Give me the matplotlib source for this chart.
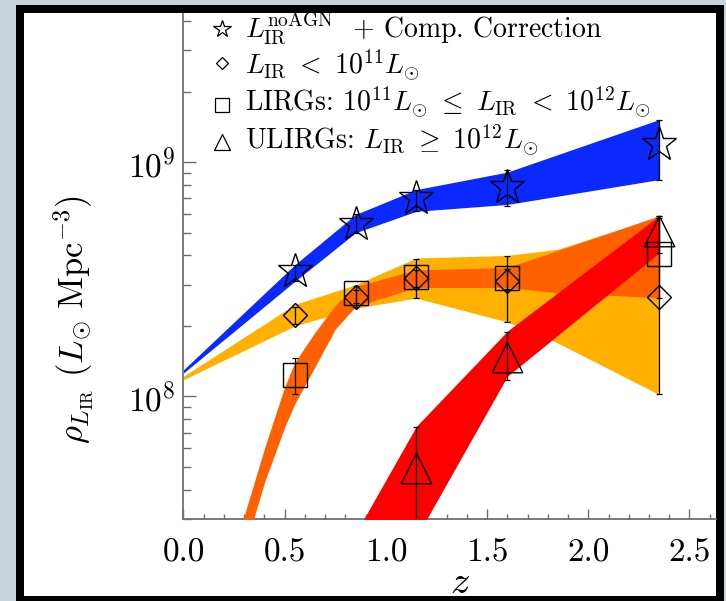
import numpy as np
import matplotlib
matplotlib.use("Agg")
import matplotlib.pyplot as plt
from matplotlib.patches import Rectangle
from matplotlib.lines import Line2D
from matplotlib.ticker import LogLocator, MultipleLocator, NullFormatter, FormatStrFormatter

plt.rcParams["font.family"] = ["cmr10", "DejaVu Serif"]
plt.rcParams["mathtext.fontset"] = "cm"
plt.rcParams["axes.formatter.use_mathtext"] = True
plt.rcParams["axes.unicode_minus"] = False

# ---- shaded bands: luminosity density ranges vs redshift ----
z_total = [0.0, 0.55, 0.85, 1.15, 1.6, 2.35]
total_lo = [1.26e8, 3.10e8, 5.00e8, 6.17e8, 6.60e8, 8.43e8]
total_hi = [1.30e8, 3.65e8, 5.98e8, 7.64e8, 9.07e8, 1.52e9]

z_faint = [0.0, 0.55, 0.85, 1.15, 1.6, 1.85, 2.35]
faint_lo = [1.18e8, 2.00e8, 2.38e8, 2.63e8, 2.08e8, 1.69e8, 1.02e8]
faint_hi = [1.22e8, 2.47e8, 3.00e8, 3.90e8, 4.00e8, 4.25e8, 5.85e8]

z_lirg = [0.25, 0.3, 0.4, 0.5, 0.55, 0.65, 0.75, 0.85, 1.15, 1.6, 1.85, 2.35]
lirg_lo = [1.6e7, 2.2e7, 4.3e7, 7.4e7, 9.3e7, 1.34e8, 1.94e8, 2.42e8, 2.92e8, 2.92e8, 2.77e8, 2.64e8]
lirg_hi = [2.2e7, 3.1e7, 6.0e7, 1.10e8, 1.40e8, 1.88e8, 2.45e8, 2.95e8, 3.47e8, 3.55e8, 4.20e8, 5.90e8]

z_ulirg = [0.85, 1.15, 1.6, 2.35]
ulirg_lo = [8.0e6, 2.5e7, 1.22e8, 4.1e8]
ulirg_hi = [2.6e7, 7.45e7, 1.90e8, 5.9e8]

# ---- measured points ----
z_pts = [0.55, 0.85, 1.15, 1.6, 2.35]
star = [3.42e8, 5.42e8, 7.05e8, 7.85e8, 1.19e9]
star_lo = [3.10e8, 5.00e8, 6.17e8, 6.50e8, 8.43e8]
star_hi = [3.65e8, 5.98e8, 7.64e8, 9.30e8, 1.52e9]

diam = [2.23e8, 2.67e8, 3.20e8, 3.10e8, 2.67e8]
diam_lo = [2.04e8, 2.50e8, 2.64e8, 2.07e8, 1.02e8]
diam_hi = [2.41e8, 2.85e8, 3.88e8, 3.99e8, 5.78e8]

sq = [1.24e8, 2.77e8, 3.22e8, 3.20e8, 4.07e8]
sq_lo = [1.02e8, 2.42e8, 2.92e8, 2.88e8, 2.64e8]
sq_hi = [1.46e8, 2.95e8, 3.47e8, 3.50e8, 5.90e8]

z_tri = [1.15, 1.6, 2.35]
tri = [4.96e7, 1.48e8, 5.07e8]
tri_lo = [1.0e7, 1.18e8, 4.1e8]
tri_hi = [7.4e7, 1.88e8, 5.9e8]

legend_labels = [
    r"$L_{\rm IR}^{\rm noAGN}$  + Comp. Correction",
    r"$L_{\rm IR}\ <\ 10^{11}L_{\odot}$",
    r"LIRGs: $10^{11}L_{\odot}\ \leq\ L_{\rm IR}\ <\ 10^{12}L_{\odot}$",
    r"ULIRGs: $L_{\rm IR}\ \geq\ 10^{12}L_{\odot}$",
]

BLUE = "#0a28ff"
GOLD = "#ffb000"
ORANGE = "#ff6000"
RED = "#ff0000"

W, H = 726, 601
fig = plt.figure(figsize=(W / 100, H / 100), dpi=100, facecolor="#c8d2d8")
fig.patches.append(Rectangle((20 / W, 1 - 600 / H), 700 / W, (600 - 9) / H,
                             transform=fig.transFigure, facecolor="white",
                             edgecolor="black", linewidth=8 * 0.72, zorder=-10))

ax = fig.add_axes([183.5 / W, 1 - 519 / H, (716 - 183.5) / W, (519 - 13.5) / H])
ax.set_zorder(1)
ax.set_facecolor("none")
ax.set_yscale("log")
ax.set_xlim(0, 2.631)
ax.set_ylim(3.0e7, 4.31e9)

ax.fill_between(z_total, total_lo, total_hi, color=BLUE, lw=0, zorder=2)
ax.fill_between(z_faint, faint_lo, faint_hi, color=GOLD, lw=0, zorder=2)
ax.fill_between(z_lirg, lirg_lo, lirg_hi, color=ORANGE, lw=0, zorder=3)
ax.fill_between(z_ulirg, ulirg_lo, ulirg_hi, color=RED, lw=0, zorder=4)

tri_marker = [(-1, -1), (1, -1), (0, 1), (-1, -1)]


def points(z, y, lo, hi, marker, ms):
    y = np.asarray(y)
    err = [y - np.asarray(lo), np.asarray(hi) - y]
    ax.errorbar(z, y, yerr=err, fmt="none", ecolor="black", elinewidth=0.9,
                capsize=2.2, capthick=0.9, zorder=5)
    ax.plot(z, y, ls="none", marker=marker, ms=ms, mfc="none", mec="black",
            mew=1.0, zorder=6)


points(z_pts, star, star_lo, star_hi, "*", 26)
points(z_pts, diam, diam_lo, diam_hi, "D", 12.2)
points(z_pts, sq, sq_lo, sq_hi, "s", 17.3)
points(z_tri, tri, tri_lo, tri_hi, tri_marker, 22)

# legend block at the top of the panel
leg_markers = ["*", "D", "s", tri_marker]
leg_ms = [13, 6.1, 9.4, 11.5]
leg_base = [37.5, 74.5, 112, 150]
leg_mark_y = [29, 63, 105, 142]
for lab, mk, ms, yb, ym in zip(legend_labels, leg_markers, leg_ms, leg_base, leg_mark_y):
    fig.lines.append(Line2D([222 / W], [1 - ym / H], ls="none", marker=mk, ms=ms,
                            mfc="none", mec="black", mew=0.9,
                            transform=fig.transFigure, zorder=5))
    fig.text(245 / W, 1 - yb / H, lab, fontsize=20, ha="left", va="baseline", zorder=5)

AXC = "#707070"
for side in ["top", "right"]:
    ax.spines[side].set_visible(False)
for side in ["left", "bottom"]:
    ax.spines[side].set_color(AXC)
    ax.spines[side].set_linewidth(1.3)

ax.xaxis.set_major_locator(MultipleLocator(0.5))
ax.xaxis.set_minor_locator(MultipleLocator(0.1))
ax.xaxis.set_major_formatter(FormatStrFormatter("%.1f"))
ax.yaxis.set_major_locator(LogLocator(base=10))
ax.yaxis.set_minor_locator(LogLocator(base=10, subs=np.arange(2, 10)))
ax.yaxis.set_minor_formatter(NullFormatter())
ax.tick_params(axis="both", which="both", direction="in", color=AXC, width=1.0)
ax.tick_params(axis="x", which="major", length=7, pad=14, labelsize=24)
ax.tick_params(axis="x", which="minor", length=3.5)
ax.tick_params(axis="y", which="major", length=9, pad=6, labelsize=24)
ax.tick_params(axis="y", which="minor", length=5.5)

ax.set_xlabel(r"$z$", fontsize=28)
ax.xaxis.set_label_coords((460 - 183.5) / (716 - 183.5), -(583 - 519) / (519 - 13.5))
ax.xaxis.label.set_va("center")
ax.set_ylabel(r"$\rho_{L_{\rm IR}}\ (L_{\odot}\ {\rm Mpc}^{-3})$", fontsize=25)
ax.yaxis.set_label_coords(-(183.5 - 74) / (716 - 183.5), (519 - 320) / (519 - 13.5))
ax.yaxis.label.set_va("center")

fig.savefig("out.png", dpi=100, facecolor=fig.get_facecolor())
